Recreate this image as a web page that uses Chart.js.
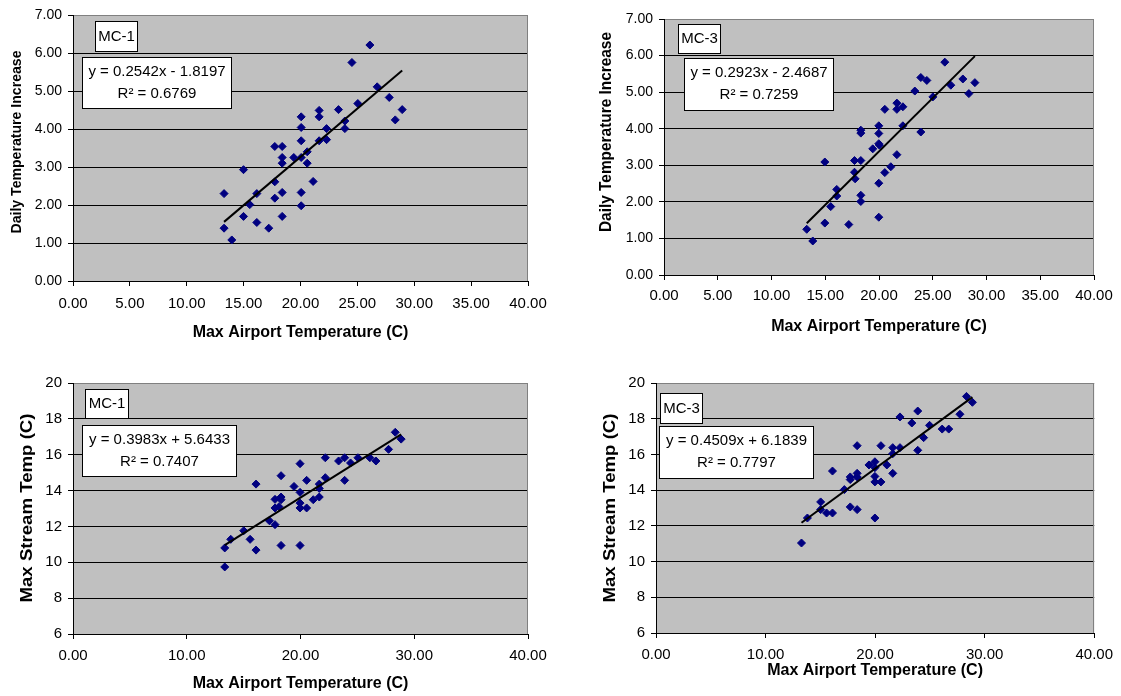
<!DOCTYPE html>
<html>
<head>
<meta charset="utf-8">
<script src="https://cdn.jsdelivr.net/npm/chart.js@4/dist/chart.umd.min.js"></script>
<style>
  html, body { margin: 0; padding: 0; background: #ffffff; }
  #wrap { position: relative; width: 1121px; height: 696px; overflow: hidden; }
  #wrap canvas { position: absolute; left: 0; top: 0; }
</style>
</head>
<body>
<div id="wrap">
  <canvas id="c1" width="1121" height="696"></canvas>
  <canvas id="c2" width="1121" height="696"></canvas>
  <canvas id="c3" width="1121" height="696"></canvas>
  <canvas id="c4" width="1121" height="696"></canvas>
</div>
<script>
// ---- Data -------------------------------------------------------------

// MC-1: daily temperature increase vs max airport temperature (C)
const mc1DailyX = [13.28, 13.28, 13.96, 14.99, 14.99, 15.54, 16.16, 16.16, 17.21, 17.74, 17.74, 17.74,
  18.39, 18.39, 18.39, 18.39, 18.39, 19.41, 20.06, 20.06, 20.06, 20.06, 20.06, 20.06, 20.59, 20.59,
  21.11, 21.64, 21.64, 21.64, 22.29, 22.29, 23.34, 23.90, 23.90, 24.52, 25.04, 26.10, 26.74, 27.80,
  28.33, 28.94];
const mc1DailyY = [2.30, 1.39, 1.08, 2.93, 1.70, 2.01, 2.30, 1.54, 1.39, 3.54, 2.61, 2.18,
  3.54, 3.25, 3.10, 2.33, 1.70, 3.25, 4.32, 4.04, 3.69, 3.25, 2.33, 1.98, 3.40, 3.10,
  2.62, 4.49, 4.32, 3.69, 4.01, 3.72, 4.51, 4.21, 4.01, 5.75, 4.67, 6.21, 5.11, 4.83,
  4.24, 4.51];

// MC-3: daily temperature increase vs max airport temperature (C)
const mc3DailyX = [13.28, 13.84, 14.96, 14.96, 15.51, 16.07, 16.07, 17.19, 17.72, 17.72, 17.78,
  18.31, 18.31, 18.31, 18.31, 18.31, 19.42, 19.98, 19.98, 19.98, 20.04, 19.98, 19.98, 20.54, 20.54,
  21.10, 21.66, 21.66, 21.66, 22.22, 22.22, 23.33, 23.89, 23.89, 24.45, 25.01, 26.12, 26.68, 27.80,
  28.36, 28.92];
const mc3DailyY = [1.25, 0.93, 3.09, 1.42, 1.87, 2.34, 2.16, 1.38, 3.13, 2.81, 2.63,
  3.96, 3.88, 3.13, 2.18, 2.01, 3.45, 4.08, 3.87, 3.59, 3.55, 2.51, 1.58, 4.53, 2.80,
  2.96, 4.70, 4.53, 3.29, 4.60, 4.08, 5.03, 5.40, 3.91, 5.32, 4.87, 5.82, 5.19, 5.36,
  4.96, 5.26];

// MC-1: max stream temperature vs max airport temperature (C)
const mc1StreamX = [13.34, 13.34, 13.87, 15.01, 15.57, 16.09, 16.09, 17.26, 17.76, 17.76, 17.76,
  18.29, 18.29, 18.29, 18.29, 18.11, 19.43, 19.96, 19.96, 19.96, 19.96, 19.96, 20.54, 20.54, 21.12,
  21.65, 21.65, 21.65, 22.18, 22.18, 23.35, 23.88, 23.88, 24.40, 25.05, 26.10, 26.63, 27.74,
  28.33, 28.85];
const mc1StreamY = [10.80, 9.74, 11.28, 11.76, 11.28, 14.36, 10.68, 12.32, 13.51, 13.03, 12.10,
  14.83, 13.64, 13.49, 10.94, 13.10, 14.23, 15.50, 13.90, 13.30, 13.03, 10.94, 14.57, 13.03, 13.49,
  14.36, 14.12, 13.64, 15.83, 14.72, 15.65, 15.83, 14.57, 15.54, 15.83, 15.83, 15.65, 16.30,
  17.25, 16.87];

// MC-3: max stream temperature vs max airport temperature (C)
const mc3StreamX = [13.28, 13.82, 15.03, 15.03, 15.57, 16.11, 16.11, 17.19, 17.73, 17.73, 17.73,
  18.36, 18.36, 18.36, 18.36, 19.44, 19.98, 19.98, 19.98, 19.98, 19.98, 20.53, 20.53, 21.07,
  21.61, 21.61, 21.61, 22.27, 22.27, 23.35, 23.89, 23.89, 24.43, 24.97, 26.12, 26.72, 27.74,
  28.34, 28.88];
const mc3StreamY = [11.04, 12.44, 13.34, 12.91, 12.72, 15.07, 12.72, 14.03, 14.74, 14.59, 13.06,
  16.49, 14.94, 14.74, 12.91, 15.41, 15.59, 15.26, 14.77, 14.46, 12.44, 16.49, 14.46, 15.41,
  16.38, 16.04, 14.94, 18.10, 16.38, 17.76, 18.43, 16.23, 16.94, 17.63, 17.42, 17.42, 18.25,
  19.25, 18.92];

// Linear fits (slope, intercept, R squared), one per panel
const fitSlope     = [0.2542, 0.2923, 0.3983, 0.4509];
const fitIntercept = [-1.8197, -2.4687, 5.6433, 6.1839];
const fitR2        = [0.6769, 0.7259, 0.7407, 0.7797];
const siteNames    = ['MC-1', 'MC-3', 'MC-1', 'MC-3'];

// Tick values
const dailyXTicks  = [0, 5, 10, 15, 20, 25, 30, 35, 40];
const streamXTicks = [0, 10, 20, 30, 40];
const dailyYTicks  = [0, 1, 2, 3, 4, 5, 6, 7];
const streamYTicks = [6, 8, 10, 12, 14, 16, 18, 20];

// Axis titles
const xTitle = 'Max Airport Temperature (C)';
const dailyYTitle = 'Daily Temperature Increase';
const streamYTitle = 'Max Stream Temp (C)';

// ---- Layout & style ---------------------------------------------------

const FONT = '"Liberation Sans", Arial, Helvetica, sans-serif';
const W = 1121, H = 696;
const PLOT_BG = '#c0c0c0';
const MARKER = '#000080';

// yT: vertical title placement [centre x, centre y, font px, drawn length px]
const panels = [
  { id: 'c1', xs: mc1DailyX, ys: mc1DailyY, xTicks: dailyXTicks, yTicks: dailyYTicks, dec: 2,
    yTitle: dailyYTitle, area: { l: 73, t: 15, r: 528, b: 281 },
    yT: [17, 142, 15, 183], xTitleY: 333, xTitleSize: 16, yTickSize: 14, xTickSize: 15, xTickPad: 9,
    nameBox: [95, 21, 43, 31], eqBox: [82, 57, 150, 52] },
  { id: 'c2', xs: mc3DailyX, ys: mc3DailyY, xTicks: dailyXTicks, yTicks: dailyYTicks, dec: 2,
    yTitle: dailyYTitle, area: { l: 664, t: 19, r: 1094, b: 275 },
    yT: [606.5, 132, 16, 200], xTitleY: 327, xTitleSize: 16, yTickSize: 14, xTickSize: 15, xTickPad: 7,
    nameBox: [678, 24, 43, 30], eqBox: [684, 58, 150, 53] },
  { id: 'c3', xs: mc1StreamX, ys: mc1StreamY, xTicks: streamXTicks, yTicks: streamYTicks, dec: 0,
    yTitle: streamYTitle, area: { l: 73, t: 383, r: 528, b: 634 },
    yT: [27.5, 508, 16, 189], xTitleY: 684, xTitleSize: 16, yTickSize: 15, xTickSize: 15, xTickPad: 8,
    nameBox: [85, 389, 44, 30], eqBox: [82, 425, 155, 52] },
  { id: 'c4', xs: mc3StreamX, ys: mc3StreamY, xTicks: streamXTicks, yTicks: streamYTicks, dec: 0,
    yTitle: streamYTitle, area: { l: 656, t: 383, r: 1099, b: 633 },
    yT: [611, 508, 16, 189], xTitleY: 671, xTitleSize: 16, yTickSize: 15, xTickSize: 15, xTickPad: 8,
    nameBox: [660, 393, 43, 31], eqBox: [659, 426, 155, 53] }
];

function eqText(i) {
  const b = fitIntercept[i];
  return 'y = ' + fitSlope[i].toFixed(4) + 'x ' + (b < 0 ? '- ' : '+ ') + Math.abs(b).toFixed(4);
}

function drawTextBox(ctx, rect, lines, fracs) {
  const [x, y, w, h] = rect;
  ctx.save();
  ctx.fillStyle = '#ffffff';
  ctx.fillRect(x, y, w, h);
  ctx.strokeStyle = '#000000';
  ctx.lineWidth = 1;
  ctx.strokeRect(x + 0.5, y + 0.5, w - 1, h - 1);
  ctx.fillStyle = '#000000';
  ctx.font = '15px ' + FONT;
  ctx.textAlign = 'center';
  ctx.textBaseline = 'middle';
  lines.forEach((t, k) => ctx.fillText(t, x + w / 2, y + h * fracs[k]));
  ctx.restore();
}

// Rotated axis title, fitted to a given run length
function drawVerticalTitle(ctx, text, spec) {
  const [cx, cy, size, len] = spec;
  ctx.save();
  ctx.font = 'bold ' + size + 'px ' + FONT;
  const natural = ctx.measureText(text).width;
  ctx.translate(cx, cy);
  ctx.rotate(-Math.PI / 2);
  ctx.scale(len / natural, 1);
  ctx.fillStyle = '#000000';
  ctx.textAlign = 'center';
  ctx.textBaseline = 'middle';
  ctx.fillText(text, 0, 0);
  ctx.restore();
}

function makeChart(p, i) {
  const lhX = p.xTitleSize * 1.2;
  const padLeft = 4;
  const bottomEdge = p.xTitleY + lhX / 2;
  const xMin = p.xTicks[0], xMax = p.xTicks[p.xTicks.length - 1];
  const yMin = p.yTicks[0], yMax = p.yTicks[p.yTicks.length - 1];

  const points = p.xs.map((x, k) => ({ x: x, y: p.ys[k] }));
  const lo = Math.min(...p.xs), hi = Math.max(...p.xs);
  const trend = [lo, hi].map(x => ({ x: x, y: fitSlope[i] * x + fitIntercept[i] }));

  const panelPlugin = {
    id: 'panelDecor' + i,
    beforeDraw(chart) {
      const a = chart.chartArea, ctx = chart.ctx;
      ctx.save();
      ctx.fillStyle = PLOT_BG;
      ctx.fillRect(a.left, a.top, a.right - a.left, a.bottom - a.top);
      ctx.restore();
    },
    beforeDatasetsDraw(chart) {
      const a = chart.chartArea, ctx = chart.ctx;
      ctx.save();
      ctx.strokeStyle = '#808080';
      ctx.lineWidth = 1;
      ctx.beginPath();
      const rx = Math.round(a.right) - 0.5;
      ctx.moveTo(rx, Math.round(a.top));
      ctx.lineTo(rx, Math.round(a.bottom));
      ctx.stroke();
      ctx.restore();
    },
    afterDraw(chart) {
      const ctx = chart.ctx;
      drawVerticalTitle(ctx, p.yTitle, p.yT);
      drawTextBox(ctx, p.nameBox, [siteNames[i]], [0.5]);
      drawTextBox(ctx, p.eqBox, [eqText(i), 'R\u00B2 = ' + fitR2[i].toFixed(4)], [0.28, 0.70]);
    }
  };

  return new Chart(document.getElementById(p.id), {
    type: 'scatter',
    data: {
      datasets: [
        { data: trend, showLine: true, borderColor: '#000000', borderWidth: 2,
          pointRadius: 0, pointHoverRadius: 0, fill: false, tension: 0, order: 0 },
        { data: points, pointStyle: 'rectRot', pointRadius: 4, pointHoverRadius: 4,
          backgroundColor: MARKER, borderColor: MARKER, borderWidth: 1, showLine: false, order: 1 }
      ]
    },
    options: {
      responsive: false,
      animation: false,
      devicePixelRatio: 1,
      events: [],
      layout: { padding: { left: padLeft, top: p.area.t, right: W - p.area.r, bottom: H - bottomEdge } },
      plugins: { legend: { display: false }, tooltip: { enabled: false } },
      scales: {
        x: {
          type: 'linear', position: 'bottom', min: xMin, max: xMax,
          afterBuildTicks: s => { s.ticks = p.xTicks.map(v => ({ value: v })); },
          afterFit: s => { s.height = bottomEdge - p.area.b; },
          grid: { drawOnChartArea: false, drawTicks: true, tickLength: 5, tickColor: '#000000', lineWidth: 1 },
          border: { display: true, color: '#000000', width: 1 },
          ticks: { color: '#000000', padding: p.xTickPad, maxRotation: 0, autoSkip: false,
                   font: { family: FONT, size: p.xTickSize },
                   callback: v => Number(v).toFixed(2) },
          title: { display: true, text: xTitle, color: '#000000', padding: 0,
                   font: { family: FONT, size: p.xTitleSize, weight: 'bold' } }
        },
        y: {
          type: 'linear', position: 'left', min: yMin, max: yMax,
          afterBuildTicks: s => { s.ticks = p.yTicks.map(v => ({ value: v })); },
          afterFit: s => { s.width = p.area.l - padLeft; },
          grid: { drawOnChartArea: true, drawTicks: true, tickLength: 5, tickColor: '#000000', lineWidth: 1,
                  color: c => (c.tick && c.tick.value === yMax) ? '#808080' : '#000000' },
          border: { display: true, color: '#000000', width: 1 },
          ticks: { color: '#000000', padding: 6, autoSkip: false,
                   font: { family: FONT, size: p.yTickSize },
                   callback: v => Number(v).toFixed(p.dec) },
          title: { display: false }
        }
      }
    },
    plugins: [panelPlugin]
  });
}

panels.forEach((p, i) => makeChart(p, i));
</script>
</body>
</html>
